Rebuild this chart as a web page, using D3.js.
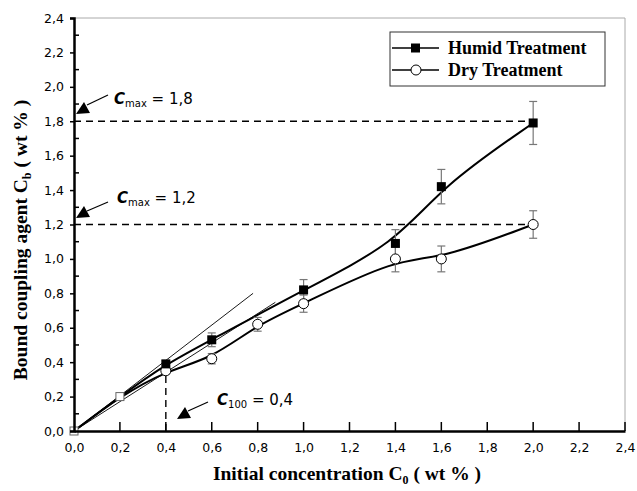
<!DOCTYPE html>
<html>
<head>
<meta charset="utf-8">
<script src="https://cdn.jsdelivr.net/npm/d3@7"></script>
<style>
  body { margin: 0; background: #fff; }
  svg { display: block; }
</style>
</head>
<body>
<svg width="637" height="491"></svg>
<script>
// data
const humidX   = [0, 0.2, 0.4, 0.6, 1.0, 1.4, 1.6, 2.0];
const humidY   = [0, 0.2, 0.39, 0.53, 0.82, 1.09, 1.42, 1.79];
const humidErr = [0, 0, 0.02, 0.04, 0.06, 0.08, 0.1, 0.125];

const dryX   = [0, 0.2, 0.4, 0.6, 0.8, 1.0, 1.4, 1.6, 2.0];
const dryY   = [0, 0.2, 0.35, 0.42, 0.62, 0.74, 1.0, 1.0, 1.2];
const dryErr = [0, 0, 0.02, 0.03, 0.04, 0.05, 0.075, 0.075, 0.08];

const tangentEnds = [[0.78, 0.80], [0.877, 0.748]];
const cmaxLevels = [1.8, 1.2];
const c100 = [0.4, 0.35];

const tickVals = [0, 0.2, 0.4, 0.6, 0.8, 1.0, 1.2, 1.4, 1.6, 1.8, 2.0, 2.2, 2.4];
const minorVals = [0.1, 0.3, 0.5, 0.7, 0.9, 1.1, 1.3, 1.5, 1.7, 1.9, 2.1, 2.3];

const svg = d3.select("svg");
const pl = 74, pr = 625, pt = 18, pb = 431;

const xs = d3.scaleLinear().domain([0, 2.4]).range([pl, pr]);
const ys = d3.scaleLinear().domain([0, 2.4]).range([pb, pt]);
const fmt = d => d3.format(".1f")(d).replace(".", ",");
const tickFont = "'DejaVu Sans', Verdana, sans-serif";
const serif = "'Liberation Serif', 'Times New Roman', serif";

// frame (top + right, thin gray)
svg.append("path")
  .attr("d", `M${pl},${pt}H${pr}V${pb}`)
  .attr("fill", "none").attr("stroke", "#aaa").attr("stroke-width", 1);

// dashed guide lines
cmaxLevels.forEach(v => {
  svg.append("line")
    .attr("x1", xs(0)).attr("x2", xs(2.0))
    .attr("y1", ys(v)).attr("y2", ys(v))
    .attr("stroke", "#000").attr("stroke-width", 1.4)
    .attr("stroke-dasharray", "7,5");
});
svg.append("line")
  .attr("x1", xs(c100[0])).attr("x2", xs(c100[0]))
  .attr("y1", ys(0)).attr("y2", ys(c100[1]))
  .attr("stroke", "#000").attr("stroke-width", 1.4)
  .attr("stroke-dasharray", "7,5");

// tangent lines
tangentEnds.forEach(e => {
  svg.append("line")
    .attr("x1", xs(0)).attr("y1", ys(0))
    .attr("x2", xs(e[0])).attr("y2", ys(e[1]))
    .attr("stroke", "#000").attr("stroke-width", 0.9);
});

// smoothed curves
const line = d3.line().x(d => xs(d[0])).y(d => ys(d[1])).curve(d3.curveBasis);
const humid = humidX.map((x, i) => [x, humidY[i], humidErr[i]]);
const dry = dryX.map((x, i) => [x, dryY[i], dryErr[i]]);

[humid, dry].forEach(s => {
  svg.append("path").datum(s)
    .attr("d", line)
    .attr("fill", "none").attr("stroke", "#000").attr("stroke-width", 2);
});

// error bars
function errorBars(s) {
  const g = svg.append("g").attr("stroke", "#777").attr("stroke-width", 1.2);
  s.filter(d => d[2] > 0).forEach(d => {
    const x = xs(d[0]), y1 = ys(d[1] + d[2]), y2 = ys(d[1] - d[2]);
    g.append("line").attr("x1", x).attr("x2", x).attr("y1", y1).attr("y2", y2);
    g.append("line").attr("x1", x - 4).attr("x2", x + 4).attr("y1", y1).attr("y2", y1);
    g.append("line").attr("x1", x - 4).attr("x2", x + 4).attr("y1", y2).attr("y2", y2);
  });
}
errorBars(humid);
errorBars(dry);

// markers
svg.append("g").selectAll("circle").data(dry.filter(d => d[0] > 0.2)).enter()
  .append("circle")
  .attr("cx", d => xs(d[0])).attr("cy", d => ys(d[1])).attr("r", 5)
  .attr("fill", "#fff").attr("stroke", "#000").attr("stroke-width", 1);
svg.append("g").selectAll("rect").data(humid.filter(d => d[0] > 0.2)).enter()
  .append("rect")
  .attr("x", d => xs(d[0]) - 4.5).attr("y", d => ys(d[1]) - 4.5)
  .attr("width", 9).attr("height", 9).attr("fill", "#000");
// overlapping low points: small open squares
svg.append("g").selectAll("rect").data(humid.filter(d => d[0] <= 0.2)).enter()
  .append("rect")
  .attr("x", d => xs(d[0]) - 4).attr("y", d => ys(d[1]) - 4)
  .attr("width", 8).attr("height", 8)
  .attr("fill", "#fff").attr("stroke", "#666").attr("stroke-width", 1);

// axes
const xAxis = d3.axisBottom(xs).tickValues(tickVals).tickFormat(fmt).tickSize(0).tickPadding(12);
const yAxis = d3.axisLeft(ys).tickValues(tickVals).tickFormat(fmt).tickSize(4).tickPadding(6);

const gx = svg.append("g").attr("transform", `translate(0,${pb})`).call(xAxis);
const gy = svg.append("g").attr("transform", `translate(${pl},0)`).call(yAxis);
[gx, gy].forEach(g => {
  g.select(".domain").attr("stroke-width", 2.5);
  g.selectAll("text").attr("font-family", tickFont).attr("font-size", 12.5).attr("fill", "#000");
  g.selectAll("line").attr("stroke-width", 1.5);
});
// inside ticks
svg.append("g").selectAll("line").data(tickVals.slice(1)).enter().append("line")
  .attr("x1", d => xs(d)).attr("x2", d => xs(d))
  .attr("y1", pb).attr("y2", pb - 9)
  .attr("stroke", "#000").attr("stroke-width", 1.5);
svg.append("g").selectAll("line").data(minorVals).enter().append("line")
  .attr("x1", pl).attr("x2", pl + 5)
  .attr("y1", d => ys(d)).attr("y2", d => ys(d))
  .attr("stroke", "#000").attr("stroke-width", 1.5);

// axis titles
const xt = svg.append("text")
  .attr("x", 347).attr("y", 480).attr("text-anchor", "middle")
  .attr("font-family", serif).attr("font-weight", "bold").attr("font-size", 19.5);
xt.append("tspan").text("Initial concentration C");
xt.append("tspan").attr("font-size", 12).attr("dy", 4).text("0");
xt.append("tspan").attr("dy", -4).text(" ( wt % )");

const yt = svg.append("text")
  .attr("transform", "translate(27,240) rotate(-90)").attr("text-anchor", "middle")
  .attr("font-family", serif).attr("font-weight", "bold").attr("font-size", 19.5);
yt.append("tspan").text("Bound coupling agent C");
yt.append("tspan").attr("font-size", 12).attr("dy", 4).text("b");
yt.append("tspan").attr("dy", -4).text(" ( wt % )");

// annotations
const notes = [
  { sub: "max", val: "1,8", tx: 114, ty: 104, from: [108, 95], to: [87, 105], tri: [83, 109] },
  { sub: "max", val: "1,2", tx: 117, ty: 203, from: [108, 202], to: [87, 211], tri: [83, 213] },
  { sub: "100", val: "0,4", tx: 217, ty: 405, from: [208, 402], to: [188, 411], tri: [184, 414] }
];
notes.forEach(n => {
  svg.append("line")
    .attr("x1", n.from[0]).attr("y1", n.from[1]).attr("x2", n.to[0]).attr("y2", n.to[1])
    .attr("stroke", "#000").attr("stroke-width", 1.2);
  svg.append("path")
    .attr("d", "M-7,5L7,4L1,-7Z")
    .attr("transform", `translate(${n.tri[0]},${n.tri[1]})`)
    .attr("fill", "#000");
  const t = svg.append("text").attr("x", n.tx).attr("y", n.ty)
    .attr("font-family", tickFont).attr("font-size", 15).attr("fill", "#000");
  t.append("tspan").attr("font-style", "italic").attr("font-weight", "bold").text("C");
  t.append("tspan").attr("font-size", 10).attr("dy", 3).text(n.sub);
  t.append("tspan").attr("dy", -3).text(" = " + n.val);
});

// legend
const lg = svg.append("g");
lg.append("rect").attr("x", 390).attr("y", 32).attr("width", 215).attr("height", 54)
  .attr("fill", "#fff").attr("stroke", "#333").attr("stroke-width", 1);
[["Humid Treatment", 48, "sq"], ["Dry Treatment", 70, "ci"]].forEach(([lab, y, m]) => {
  lg.append("line").attr("x1", 392).attr("x2", 439).attr("y1", y).attr("y2", y)
    .attr("stroke", "#000").attr("stroke-width", 1.5);
  if (m === "sq") lg.append("rect").attr("x", 411).attr("y", y - 4.5).attr("width", 9).attr("height", 9).attr("fill", "#000");
  else lg.append("circle").attr("cx", 416).attr("cy", y).attr("r", 5).attr("fill", "#fff").attr("stroke", "#000");
  lg.append("text").attr("x", 448).attr("y", y + 6).text(lab)
    .attr("font-family", serif).attr("font-weight", "bold").attr("font-size", 18);
});
</script>
</body>
</html>
